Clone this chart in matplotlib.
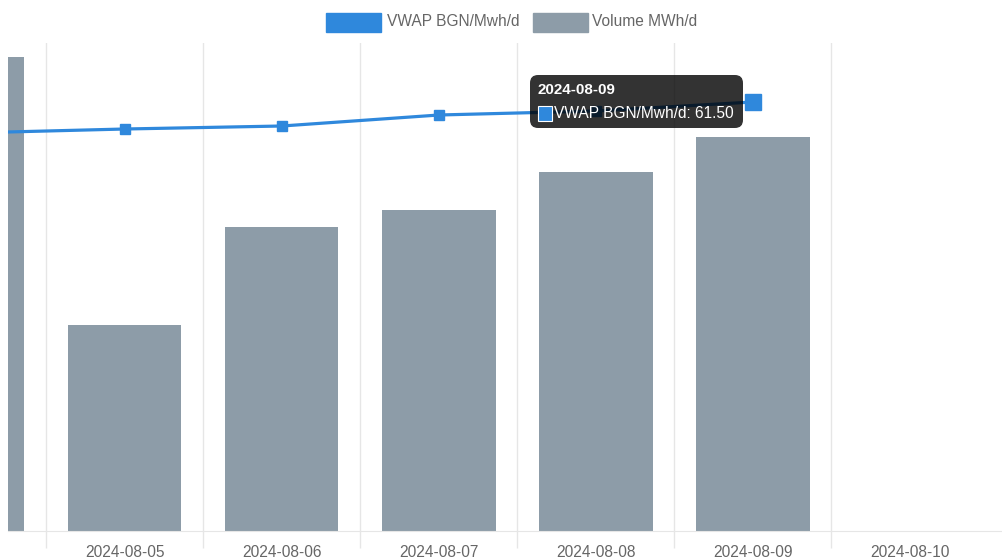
import numpy as np
import matplotlib
matplotlib.use("Agg")
import matplotlib.pyplot as plt
from matplotlib.patches import Rectangle, FancyBboxPatch

plt.rcParams['font.family'] = ['Liberation Sans', 'DejaVu Sans']

# data
dates = ['2024-08-04', '2024-08-05', '2024-08-06', '2024-08-07',
         '2024-08-08', '2024-08-09', '2024-08-10']
vwap = [58.4, 58.8, 59.1, 60.2, 60.6, 61.5, np.nan]
volume = [4860, 2110, 3115, 3290, 3680, 4040, np.nan]
hover_idx = 5

line_blue = '#2f88dc'
bar_grey = '#8d9ca8'
grid_col = '#e6e6e6'
text_col = '#666666'
fs = 11.2

W, H = 1002, 559
fig = plt.figure(figsize=(W / 100, H / 100), dpi=100)

# axes area in pixels: left 8, right 1002, top 43, bottom 531
ax = fig.add_axes([8 / W, 1 - 531 / H, (W - 8) / W, (531 - 43) / H])
x = np.arange(len(dates))

ax.bar(x, volume, width=0.72, color=bar_grey, zorder=2)
ax.set_ylim(0, 5000)

# category gridlines between labels (chart.js offset style)
ax.set_xticks(x)
ax.set_xticklabels(dates, fontsize=fs, color=text_col)
ax.set_xticks(x[:-1] + 0.5, minor=True)
ax.grid(True, which='minor', axis='x', color=grid_col, linewidth=1, zorder=0)
ax.tick_params(axis='x', which='major', length=0, pad=10)
ax.tick_params(axis='x', which='minor', length=12, color=grid_col, width=1)
ax.set_yticks([])
for s in ['top', 'left', 'right']:
    ax.spines[s].set_visible(False)
ax.spines['bottom'].set_color(grid_col)

# price on hidden twin axis
ax2 = ax.twinx()
ax2.set_ylim(18.6, 67.4)
ax2.plot(x, vwap, color=line_blue, linewidth=2.3, marker='s', markersize=6.5,
         zorder=3)
ax2.plot(x[hover_idx], vwap[hover_idx], marker='s', markersize=11.5,
         color=line_blue, zorder=3)
ax2.set_yticks([])
for s in ax2.spines.values():
    s.set_visible(False)

# first day only partly visible at the left edge
ax.set_xlim(0.255, 6.586)

# legend drawn at the top
def px(xp, yp):
    return xp / W, 1 - yp / H

fig.patches.append(Rectangle(px(326, 32), 55 / W, 19 / H, color=line_blue,
                             transform=fig.transFigure))
fig.text(*px(387, 22), 'VWAP BGN/Mwh/d', fontsize=fs, color=text_col,
         va='center')
fig.patches.append(Rectangle(px(533, 32), 55 / W, 19 / H, color=bar_grey,
                             transform=fig.transFigure))
fig.text(*px(592, 22), 'Volume MWh/d', fontsize=fs, color=text_col,
         va='center')

# hover tooltip
tip = FancyBboxPatch(px(530, 128), 213 / W, 53 / H,
                     boxstyle='round,pad=0,rounding_size=0.008',
                     transform=fig.transFigure, facecolor='black', alpha=0.8,
                     edgecolor='none', zorder=10, mutation_aspect=W / H)
fig.patches.append(tip)
fig.text(*px(538, 90), dates[hover_idx], fontsize=10.9, color='white',
         fontweight='bold', va='center', zorder=11)
fig.patches.append(Rectangle(px(538, 121), 14 / W, 15 / H, facecolor=line_blue,
                             edgecolor='white', linewidth=0.8,
                             transform=fig.transFigure, zorder=11))
fig.text(*px(554, 113), 'VWAP BGN/Mwh/d: %.2f' % vwap[hover_idx],
         fontsize=fs, color='white', va='center', zorder=11)

fig.savefig('out.png', dpi=100)
